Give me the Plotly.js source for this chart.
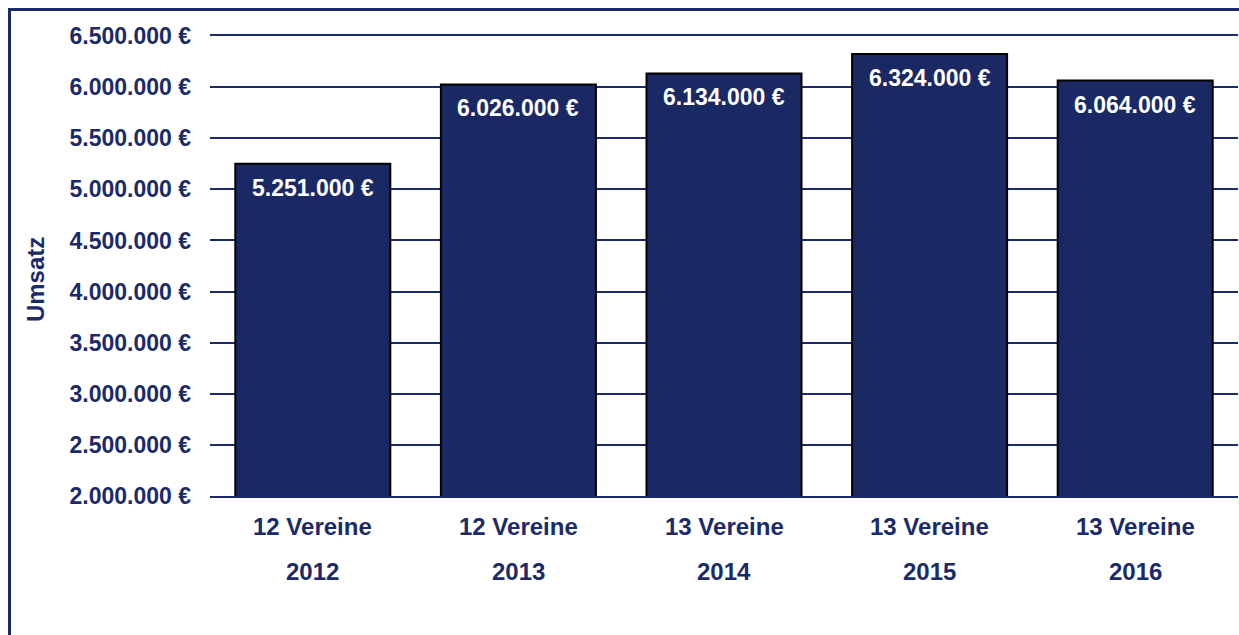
<!DOCTYPE html>
<html>
<head>
<meta charset="utf-8">
<script src="https://cdn.plot.ly/plotly-3.0.1.min.js"></script>
<style>
  html, body { margin: 0; padding: 0; background: #ffffff; overflow: hidden; }
  #frame { position: absolute; left: 8px; top: 8px; width: 1400px; height: 800px;
           border-left: 3px solid #1b2a68; border-top: 3px solid #1b2a68; }
  #chart { position: absolute; left: 0; top: 0; width: 1239px; height: 635px; }
</style>
</head>
<body>
<div id="frame"></div>
<div id="chart"></div>
<script>
const years = ['2012', '2013', '2014', '2015', '2016'];
const vereine = ['12 Vereine', '12 Vereine', '13 Vereine', '13 Vereine', '13 Vereine'];
const umsatz = [5251000, 6026000, 6134000, 6324000, 6064000];
const yTicks = [2000000, 2500000, 3000000, 3500000, 4000000, 4500000, 5000000, 5500000, 6000000, 6500000];
const yTitle = 'Umsatz';

const navy = '#1b2a68';
const fontFam = '"Liberation Sans", Arial, sans-serif';

function fmtEuro(v) {
  return String(v).replace(/\B(?=(\d{3})+(?!\d))/g, '.') + ' €';
}

const idx = years.map((_, i) => i);

const trace = {
  type: 'bar',
  x: idx,
  y: umsatz,
  marker: { color: '#1a2864', line: { color: '#000000', width: 2 } },
  hoverinfo: 'skip'
};

const annotations = [];
idx.forEach((i) => {
  annotations.push({
    x: i, y: umsatz[i], xref: 'x', yref: 'y', yanchor: 'middle',
    text: fmtEuro(umsatz[i]), showarrow: false, yshift: -24,
    font: { family: fontFam, size: 23, color: '#ffffff', weight: 'bold' }
  });
  annotations.push({
    x: i, y: 0, xref: 'x', yref: 'paper', yanchor: 'middle',
    text: vereine[i], showarrow: false, yshift: -30,
    font: { family: fontFam, size: 24, color: navy, weight: 'bold' }
  });
  annotations.push({
    x: i, y: 0, xref: 'x', yref: 'paper', yanchor: 'middle',
    text: years[i], showarrow: false, yshift: -75,
    font: { family: fontFam, size: 24, color: navy, weight: 'bold' }
  });
});
annotations.push({
  x: -0.169, y: 0.47, xref: 'paper', yref: 'paper',
  xanchor: 'center', yanchor: 'middle', textangle: -90,
  text: yTitle, showarrow: false,
  font: { family: fontFam, size: 24, color: navy, weight: 'bold' }
});

const layout = {
  width: 1239, height: 635,
  margin: { l: 210, r: 1, t: 36, b: 139 },
  paper_bgcolor: 'rgba(0,0,0,0)',
  plot_bgcolor: 'rgba(0,0,0,0)',
  showlegend: false,
  bargap: 0.246,
  xaxis: {
    type: 'linear',
    range: [-0.5, 4.5],
    showticklabels: false,
    showgrid: false,
    showline: true, mirror: true, linecolor: navy, linewidth: 2,
    zeroline: false, ticks: ''
  },
  yaxis: {
    range: [2000000, 6500000],
    tickvals: yTicks,
    ticktext: yTicks.map(fmtEuro),
    showgrid: true, gridcolor: navy, gridwidth: 2,
    zeroline: false, showline: false, ticks: '',
    ticklabelstandoff: 18,
    tickfont: { family: fontFam, size: 23, color: navy, weight: 'bold' }
  },
  annotations: annotations
};

Plotly.newPlot('chart', [trace], layout, { staticPlot: true, displayModeBar: false });
</script>
</body>
</html>
